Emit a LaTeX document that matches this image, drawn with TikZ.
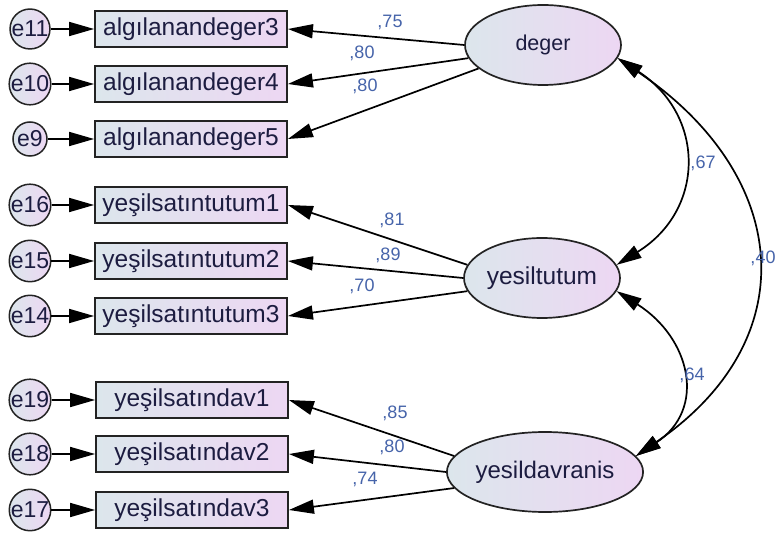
\documentclass[tikz,border=0pt]{standalone}
\usepackage{fontspec}
\setmainfont{Liberation Sans}
\usetikzlibrary{shapes.geometric,arrows.meta,calc}

\definecolor{fillL}{RGB}{220,230,236}
\definecolor{fillR}{RGB}{237,215,243}
\definecolor{txt}{RGB}{28,28,64}
\definecolor{coef}{RGB}{70,100,170}
\definecolor{edge}{RGB}{35,35,35}

\begin{document}
\begin{tikzpicture}[x=1pt,y=-1pt,
  obs/.style={draw=edge,line width=1.8pt,left color=fillL,right color=fillR,
    minimum width=192pt,minimum height=36pt,inner sep=0pt,text=txt,
    font=\fontsize{24.5}{28}\selectfont},
  err/.style={circle,draw=edge,line width=1.5pt,left color=fillL,right color=fillR,
    minimum size=34pt,inner sep=0pt,text=txt,font=\fontsize{23}{26}\selectfont},
  lat/.style={ellipse,draw=edge,line width=1.7pt,left color=fillL,right color=fillR,
    minimum width=156pt,minimum height=80pt,inner sep=0pt,text=txt},
  load/.style={line width=1.7pt,-{Triangle[length=25pt,width=14pt]}},
  cov/.style={line width=1.7pt,{Triangle[length=25pt,width=14pt]}-{Triangle[length=25pt,width=14pt]}},
  coefl/.style={text=coef,font=\fontsize{18}{20}\selectfont,inner sep=0pt}
]
\useasboundingbox (0,0) rectangle (776,534);
\fill[white] (0,0) rectangle (776,534);

% observed indicators
\node[obs] (a3) at (191,29)  {algılanandeger3};
\node[obs] (a4) at (191,84)  {algılanandeger4};
\node[obs] (a5) at (191,139) {algılanandeger5};
\node[obs] (t1) at (191,205) {yeşilsatıntutum1};
\node[obs] (t2) at (191,261) {yeşilsatıntutum2};
\node[obs] (t3) at (191,316) {yeşilsatıntutum3};
\node[obs] (d1) at (192,400) {yeşilsatındav1};
\node[obs] (d2) at (192,454) {yeşilsatındav2};
\node[obs] (d3) at (192,510) {yeşilsatındav3};

% error terms
\node[err] (e11) at (30,29)  {e11};
\node[err] (e10) at (30,84)  {e10};
\node[err] (e9)  at (30,139) {e9};
\node[err] (e16) at (30,205) {e16};
\node[err] (e15) at (30,261) {e15};
\node[err] (e14) at (30,316) {e14};
\node[err] (e19) at (30,400) {e19};
\node[err] (e18) at (30,454) {e18};
\node[err] (e17) at (30,510) {e17};

\foreach \e/\b in {e11/a3,e10/a4,e9/a5,e16/t1,e15/t2,e14/t3,e19/d1,e18/d2,e17/d3}
  \draw[load] (\e.east) -- (\b.west);

% latent factors
\node[lat,font=\fontsize{21.5}{24}\selectfont] (deger) at (543,45)  {deger};
\node[lat,font=\fontsize{24.5}{28}\selectfont] (yt)    at (542,278) {yesiltutum};
\node[lat,font=\fontsize{24}{28}\selectfont]   (yd)    at (545,472) {yesildavranis};

% loadings
\draw[load] (deger.180) -- (a3.east);
\draw[load] (deger.190) -- (a4.east);
\draw[load] (deger.200) -- (a5.east);
\draw[load] (yt.170) -- (t1.east);
\draw[load] (yt.180) -- (t2.east);
\draw[load] (yt.190) -- (t3.east);
\draw[load] (yd.170) -- (d1.east);
\draw[load] (yd.180) -- (d2.east);
\draw[load] (yd.190) -- (d3.east);

% covariances
\draw[cov] (deger.-10) .. controls ($(deger.-10)+(88,57)$) and ($(yt.10)+(89,-55)$) .. (yt.10);
\draw[cov] (deger.-10) .. controls ($(deger.-10)+(173,117)$) and ($(yd.10)+(171,-117)$) .. (yd.10);
\draw[cov] (yt.-10) .. controls ($(yt.-10)+(74,47)$) and ($(yd.10)+(71,-47)$) .. (yd.10);

% coefficients
\node[coefl] (c75) at (390,22)  {,75};
\node[coefl] (c80a) at (362,53) {,80};
\node[coefl] (c80b) at (365,86) {,80};
\node[coefl] (c81) at (392,220) {,81};
\node[coefl] (c89) at (388,255) {,89};
\node[coefl] (c70) at (362,286) {,70};
\node[coefl] (c85) at (395,413) {,85};
\node[coefl] (c80c) at (392,447) {,80};
\node[coefl] (c74) at (365,479) {,74};
\node[coefl] (c67) at (703,163) {,67};
\node[coefl] (c40) at (763,258) {,40};
\node[coefl] (c64) at (692,375) {,64};
\end{tikzpicture}
\end{document}
